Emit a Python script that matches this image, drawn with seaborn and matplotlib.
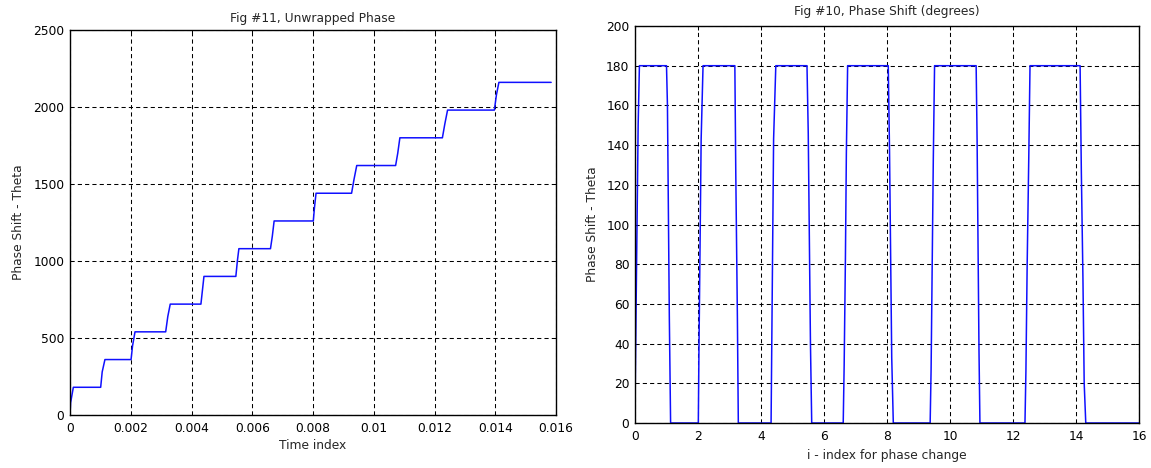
import matplotlib
matplotlib.use("Agg")
import matplotlib.pyplot as plt
import seaborn as sns
import pandas as pd

# ---- Data: Fig #11, unwrapped phase ----
time_index = [0, 0.00002, 0.00011, 0.00101, 0.00106, 0.00115, 0.00201, 0.00206, 0.00214,
              0.00315, 0.00322, 0.0033, 0.00431, 0.00436, 0.00441, 0.00546, 0.00551, 0.00556,
              0.0066, 0.00666, 0.00672, 0.00801, 0.00805, 0.0081, 0.00927, 0.00935, 0.00944,
              0.01072, 0.01079, 0.01086, 0.01226, 0.01234, 0.01243, 0.01397, 0.01404, 0.01412,
              0.01584]
unwrapped_phase = [0, 80, 180, 180, 280, 360, 360, 450, 540,
                   540, 640, 720, 720, 810, 900, 900, 1000, 1080,
                   1080, 1160, 1260, 1260, 1350, 1440, 1440, 1530, 1620,
                   1620, 1700, 1800, 1800, 1890, 1980, 1980, 2080, 2160,
                   2160]

# ---- Data: Fig #10, phase shift (degrees) ----
phase_index = [0, 0.0, 0.05, 0.1, 0.14,
               1.0, 1.03, 1.09, 1.13,
               2.01, 2.03, 2.1, 2.16,
               3.17, 3.2, 3.25, 3.28,
               4.32, 4.34, 4.4, 4.47,
               5.46, 5.5, 5.57, 5.61,
               6.61, 6.64, 6.68, 6.71, 6.75,
               8.04, 8.08, 8.15, 8.2,
               9.37, 9.4, 9.47, 9.51,
               10.83, 10.86, 10.92, 10.95,
               12.38, 12.41, 12.45, 12.5, 12.54,
               14.13, 14.17, 14.22, 14.26, 14.31,
               16]
phase_shift = [0, 8, 80, 150, 180,
               180, 160, 53, 0,
               0, 36, 143, 180,
               180, 125, 54, 0,
               0, 36, 143, 180,
               180, 146, 40, 0,
               0, 29, 83, 136, 180,
               180, 137, 33, 0,
               0, 27, 133, 180,
               180, 143, 37, 0,
               0, 26, 80, 133, 180,
               180, 126, 73, 20, 0,
               0]

left_xticks = [0, 0.002, 0.004, 0.006, 0.008, 0.01, 0.012, 0.014, 0.016]
left_xticklabels = ["0", "0.002", "0.004", "0.006", "0.008", "0.01", "0.012", "0.014", "0.016"]
left_yticks = [0, 500, 1000, 1500, 2000, 2500]
right_xticks = [0, 2, 4, 6, 8, 10, 12, 14, 16]
right_yticks = [0, 20, 40, 60, 80, 100, 120, 140, 160, 180, 200]

sns.set_style("white")
plt.rcParams['font.family'] = ['DejaVu Sans']
plt.rcParams['xtick.direction'] = 'in'
plt.rcParams['ytick.direction'] = 'in'

fig = plt.figure(figsize=(11.51, 4.68), dpi=100)
ax1 = fig.add_axes([70/1151, 1-415/468, (556-70)/1151, (415-30)/468])
ax2 = fig.add_axes([635/1151, 1-423/468, (1139-635)/1151, (423-26)/468])

df1 = pd.DataFrame({"x": time_index, "y": unwrapped_phase})
df2 = pd.DataFrame({"x": phase_index, "y": phase_shift})

sns.lineplot(data=df1, x="x", y="y", ax=ax1, sort=False, estimator=None,
             color="#1010ff", linewidth=1.1)
sns.lineplot(data=df2, x="x", y="y", ax=ax2, sort=False, estimator=None,
             color="#1010ff", linewidth=1.1)

fs = 8.8
grid_kw = dict(color="black", linestyle=(0, (4, 3)), linewidth=0.75)

ax1.set_xlim(0, 0.016)
ax1.set_ylim(0, 2500)
ax1.set_xticks(left_xticks)
ax1.set_xticklabels(left_xticklabels)
ax1.set_yticks(left_yticks)
ax1.set_title("Fig #11, Unwrapped Phase", fontsize=fs, pad=6)
ax1.set_xlabel("Time index", fontsize=fs, labelpad=3)
ax1.set_ylabel("Phase Shift - Theta", fontsize=fs, labelpad=6)

ax2.set_xlim(0, 16)
ax2.set_ylim(0, 200)
ax2.set_xticks(right_xticks)
ax2.set_yticks(right_yticks)
ax2.set_title("Fig #10, Phase Shift (degrees)", fontsize=fs, pad=8)
ax2.set_xlabel("i - index for phase change", fontsize=fs, labelpad=4)
ax2.set_ylabel("Phase Shift - Theta", fontsize=fs, labelpad=5)

for ax in (ax1, ax2):
    ax.grid(True, **grid_kw)
    ax.set_axisbelow(True)
    ax.tick_params(labelsize=fs, length=3, width=0.7, colors="black",
                   top=True, right=True)
    ax.tick_params(axis="x", pad=5)
    ax.tick_params(axis="y", pad=4)
    for s in ax.spines.values():
        s.set_color("black")
        s.set_linewidth(1.0)
        s.set_visible(True)

fig.savefig("out.png", dpi=100, facecolor="white")
